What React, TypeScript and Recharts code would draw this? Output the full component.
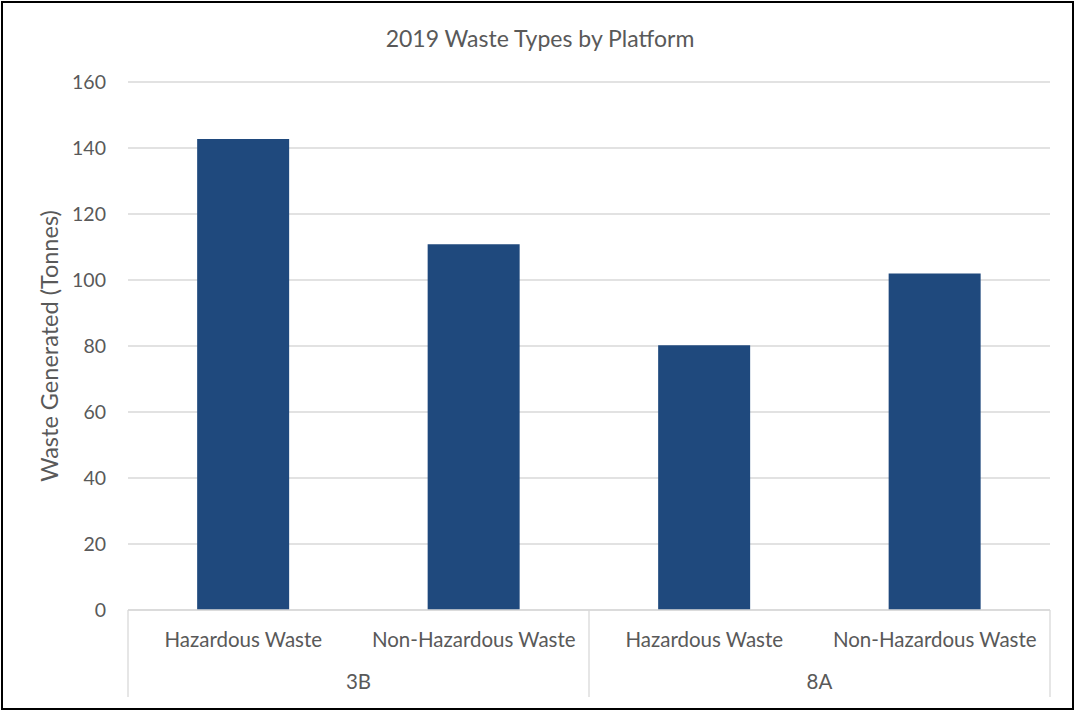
import React from "react";
import {
  Bar,
  BarChart,
  CartesianGrid,
  XAxis,
  YAxis,
} from "recharts";

const platforms = ["3B", "3B", "8A", "8A"];
const wasteTypes = [
  "Hazardous Waste",
  "Non-Hazardous Waste",
  "Hazardous Waste",
  "Non-Hazardous Waste",
];
const tonnes = [142.7, 110.8, 80.2, 102.0];
const yTicks = [0, 20, 40, 60, 80, 100, 120, 140, 160];

const data = wasteTypes.map((t, i) => ({
  key: `${platforms[i]}-${t}`,
  type: t,
  platform: platforms[i],
  value: tonnes[i],
}));

const FONT = "Lato, 'Liberation Sans', sans-serif";
const TEXT = "#595959";
const GRID = "#d9d9d9";

// two-level category axis: sub label, group label and separator lines
const CategoryTick = (props: any) => {
  const { x, y, payload } = props;
  const i = payload.index;
  const half = payload.offset || 115;
  const row = data[i];
  const startsGroup = i === 0 || data[i - 1].platform !== row.platform;
  const isLast = i === data.length - 1;
  return (
    <g>
      <text
        x={x}
        y={y + 30}
        dy="0.355em"
        textAnchor="middle"
        fill={TEXT}
        fontSize={20.5}
        fontFamily={FONT}
      >
        {row.type}
      </text>
      {startsGroup && (
        <>
          <line x1={x - half} x2={x - half} y1={y} y2={y + 87} stroke={GRID} strokeWidth={1.3} />
          <text
            x={x + half}
            y={y + 72}
            dy="0.355em"
            textAnchor="middle"
            fill={TEXT}
            fontSize={20.5}
            fontFamily={FONT}
          >
            {row.platform}
          </text>
        </>
      )}
      {isLast && (
        <line x1={x + half} x2={x + half} y1={y} y2={y + 87} stroke={GRID} strokeWidth={1.3} />
      )}
    </g>
  );
};

const YLabel = (props: any) => {
  const vb = props.viewBox || {};
  const cx = 50;
  const cy = (vb.y || 82) + (vb.height || 528) / 2;
  return (
    <text
      x={cx}
      y={cy}
      dy="0.355em"
      textAnchor="middle"
      transform={`rotate(-90 ${cx} ${cy})`}
      fill={TEXT}
      fontSize={23.5}
      fontFamily={FONT}
    >
      Waste Generated (Tonnes)
    </text>
  );
};

export default function App() {
  return (
    <div
      style={{
        position: "absolute",
        left: 0,
        top: 0,
        width: 1076,
        height: 712,
        background: "#fff",
      }}
    >
      <BarChart
        width={1076}
        height={712}
        data={data}
        margin={{ top: 82, right: 26, bottom: 12, left: 28 }}
        barCategoryGap="30%"
      >
        <CartesianGrid vertical={false} stroke={GRID} strokeWidth={1.3} />
        <text
          x={540}
          y={39}
          dy="0.355em"
          textAnchor="middle"
          fill={TEXT}
          fontSize={23}
          fontFamily={FONT}
        >
          2019 Waste Types by Platform
        </text>
        <XAxis
          dataKey="key"
          height={90}
          interval={0}
          tickLine={false}
          tickSize={0}
          tickMargin={0}
          axisLine={{ stroke: GRID, strokeWidth: 1.3 }}
          tick={<CategoryTick />}
        />
        <YAxis
          width={100}
          domain={[0, 160]}
          ticks={yTicks}
          axisLine={false}
          tickLine={false}
          tickSize={0}
          tickMargin={22}
          tick={{ fill: TEXT, fontSize: 19.5, fontFamily: FONT }}
          label={(p: any) => <YLabel {...p} />}
        />
        <Bar dataKey="value" fill="#1f497d" isAnimationActive={false} />
      </BarChart>
      <div
        style={{
          position: "absolute",
          left: 1,
          top: 1,
          width: 1073,
          height: 709,
          border: "2px solid #000",
          boxSizing: "border-box",
          pointerEvents: "none",
        }}
      />
    </div>
  );
}
